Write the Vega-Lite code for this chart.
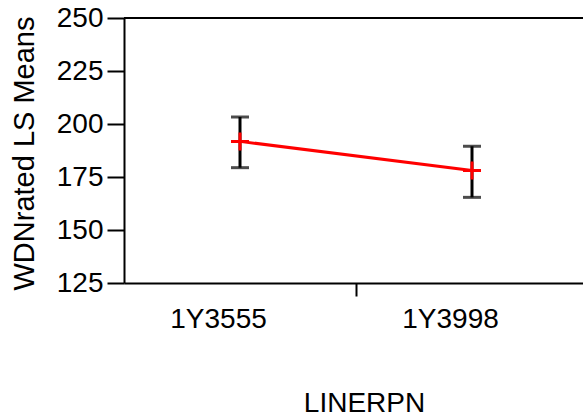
{
  "$schema": "https://vega.github.io/schema/vega-lite/v6.json",
  "width": 459,
  "height": 265,
  "autosize": {"type": "none"},
  "padding": {"left": 124, "top": 18, "right": 0, "bottom": 132},
  "background": "white",
  "config": {
    "view": {"stroke": null},
    "font": "Liberation Sans",
    "axis": {
      "labelFont": "Liberation Sans",
      "titleFont": "Liberation Sans",
      "labelColor": "black",
      "titleColor": "black",
      "tickColor": "black",
      "domainColor": "black",
      "domainWidth": 2,
      "tickWidth": 2,
      "labelFontSize": 28,
      "titleFontSize": 28,
      "titleFontWeight": "normal",
      "grid": false
    }
  },
  "data": {
    "values": [
      {"LINERPN": "1Y3555", "mean": 191.8, "lower": 179.4, "upper": 203.3},
      {"LINERPN": "1Y3998", "mean": 178.1, "lower": 165.4, "upper": 189.5}
    ]
  },
  "encoding": {
    "x": {
      "field": "LINERPN",
      "type": "nominal",
      "sort": null,
      "scale": {"range": [0, 464], "paddingInner": 0, "paddingOuter": 0},
      "axis": {
        "title": "LINERPN",
        "labelAngle": 0,
        "labelFontSize": 28,
        "tickSize": 13,
        "tickOffset": 116,
        "labelOffset": -138,
        "labelPadding": 9,
        "titleFontSize": 28,
        "titleX": 240,
        "titleY": 128,
        "titleBaseline": "alphabetic",
        "titleAlign": "center"
      }
    }
  },
  "layer": [
    {
      "mark": {"type": "rule", "color": "black", "strokeWidth": 2},
      "encoding": {
        "x": null,
        "y": {
          "datum": 250,
          "type": "quantitative",
          "scale": {"domain": [125, 250], "nice": false},
          "title": "WDNrated LS Means",
          "axis": {
            "title": "WDNrated LS Means",
            "values": [125, 150, 175, 200, 225, 250],
            "tickSize": 17,
            "labelPadding": 4,
            "labelFontSize": 28,
            "titleFontSize": 29,
            "titleX": -91,
            "titleY": 135,
            "titleBaseline": "alphabetic",
            "titleAlign": "center",
            "titleAngle": -90
          }
        }
      }
    },
    {
      "mark": {"type": "rule", "color": "black", "strokeWidth": 3},
      "encoding": {
        "y": {"field": "lower", "type": "quantitative", "title": "WDNrated LS Means"},
        "y2": {"field": "upper"}
      }
    },
    {
      "mark": {"type": "tick", "color": "black", "size": 18, "thickness": 3},
      "encoding": {
        "y": {"field": "lower", "type": "quantitative", "title": "WDNrated LS Means"}
      }
    },
    {
      "mark": {"type": "tick", "color": "black", "size": 18, "thickness": 3},
      "encoding": {
        "y": {"field": "upper", "type": "quantitative", "title": "WDNrated LS Means"}
      }
    },
    {
      "mark": {"type": "line", "color": "red", "strokeWidth": 3},
      "encoding": {
        "y": {"field": "mean", "type": "quantitative", "title": "WDNrated LS Means"}
      }
    },
    {
      "mark": {"type": "point", "shape": "M-1,0L1,0M0,-1L0,1", "filled": false, "stroke": "red", "strokeWidth": 3, "size": 324, "opacity": 1},
      "encoding": {
        "y": {"field": "mean", "type": "quantitative", "title": "WDNrated LS Means"}
      }
    }
  ]
}
